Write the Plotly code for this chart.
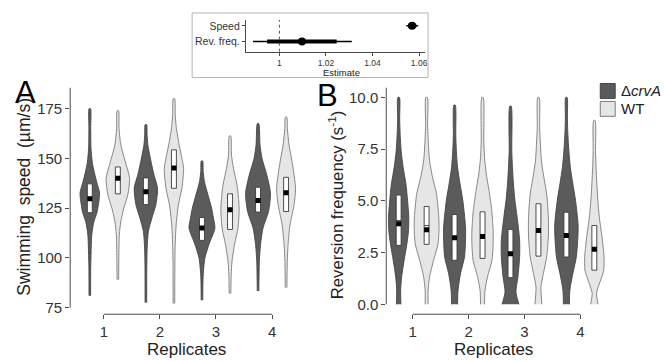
import plotly.graph_objects as go

# ---------------- data ----------------
REPLICATES = [1, 2, 3, 4]
GROUP_LABELS = ["\u0394<i>crvA</i>", "WT"]

# Panel A: swimming speed (µm/s) -- violin outlines (value levels + relative density)
speed_crvA_levels = [
    [81, 95, 103, 111.7, 118, 123, 131, 133, 138, 143, 148, 155, 165, 175],
    [77.5, 95, 105, 113.3, 120, 126.7, 135, 142, 148.3, 156.7, 161.7, 167],
    [78.7, 88, 93.3, 100, 106.7, 115, 120, 125, 131.7, 138.3, 143.3, 148.7],
    [83.3, 98.3, 106.7, 115, 123.3, 132.5, 141.7, 150, 156.7, 167.5],
]
speed_crvA_density = [
    [0.8, 0.9, 1.3, 2, 4, 7.3, 9.7, 9.7, 7, 4.5, 2.5, 1.2, 0.9, 0.7],
    [0.8, 0.9, 1.3, 2.5, 6, 10, 11.7, 8, 5.2, 2, 1.2, 0.7],
    [0.8, 1.0, 1.5, 3, 7, 13, 11.5, 9.7, 6, 2.5, 1.2, 0.7],
    [0.8, 1.3, 2.5, 5, 10.5, 12.5, 8.8, 4, 2, 0.7],
]
speed_WT_levels = [
    [89, 100, 111.7, 118.3, 125, 131.7, 140, 148.3, 156.7, 165, 174],
    [77, 100, 110, 118.3, 126.7, 135, 145, 150, 156.7, 165, 171.7, 180],
    [82, 91.7, 98.3, 106.7, 115, 125, 136.7, 145, 151.7, 161.3],
    [85, 98.3, 106.7, 116.7, 126.7, 135, 148.3, 156.7, 165, 170.8],
]
speed_WT_density = [
    [0.8, 1.0, 1.5, 3, 6, 10, 11.8, 7.5, 3, 1.2, 0.7],
    [0.8, 1.0, 1.5, 2.5, 4.5, 8, 9.7, 8, 5.3, 2.5, 1.3, 0.7],
    [0.8, 1.2, 2, 4.5, 8, 9.2, 7, 3.5, 1.5, 0.7],
    [0.8, 1.2, 2, 4, 8, 9.5, 6, 3, 1.3, 0.7],
]
speed_crvA_q1 = [122.7, 126.8, 108.8, 123.0]
speed_crvA_median = [129.7, 133.3, 115.0, 128.8]
speed_crvA_q3 = [137.2, 140.2, 120.3, 135.5]
speed_crvA_mean = [129.7, 133.3, 115.0, 128.8]
speed_WT_q1 = [132.2, 135.0, 114.3, 123.3]
speed_WT_median = [140.0, 145.2, 124.2, 132.7]
speed_WT_q3 = [145.7, 154.3, 132.2, 140.5]
speed_WT_mean = [140.0, 145.2, 124.2, 132.7]

# Panel B: reversion frequency (s^-1)
rev_crvA_levels = [
    [0, 0.69, 1.33, 2.13, 2.93, 3.5, 4.2, 5.0, 5.82, 6.62, 7.42, 8.22, 9.0, 10],
    [0, 0.69, 1.49, 2.29, 3.1, 3.74, 5.02, 5.82, 6.62, 7.42, 8.22, 9.63],
    [0, 0.6, 1.33, 2.3, 3.1, 4.21, 5.02, 5.82, 6.62, 7.42, 9.58],
    [0, 0.69, 1.49, 2.29, 3.4, 3.9, 5.02, 5.82, 6.62, 7.42, 8.22, 9.0, 10],
]
rev_crvA_density = [
    [2.3, 2, 3, 5.5, 8.3, 9.8, 10.2, 9, 7.3, 4.5, 2.5, 1.5, 1, 0.8],
    [3, 3.5, 6, 10, 11, 11, 8.3, 5.5, 3, 1.8, 1.2, 0.7],
    [8.5, 5.5, 7.5, 9.2, 9.2, 6.7, 4.5, 3, 2, 1.3, 0.7],
    [3, 3.5, 6.5, 10, 11.7, 11.7, 9.2, 6.5, 4, 2.5, 1.5, 1, 0.7],
]
rev_WT_levels = [
    [0, 0.69, 1.33, 2.13, 2.93, 3.7, 4.2, 5.33, 6.13, 6.93, 7.74, 8.7, 10],
    [0, 0.69, 1.33, 2.13, 2.93, 3.57, 4.53, 5.5, 6.3, 7.1, 7.9, 10],
    [0, 0.85, 1.49, 2.29, 3.3, 4.2, 5.33, 6.13, 6.93, 7.74, 8.54, 10],
    [0, 0.53, 0.85, 1.33, 1.65, 2.3, 3.41, 4.21, 5.02, 5.82, 6.62, 7.42, 8.89],
]
rev_WT_density = [
    [1.5, 1.5, 3, 7, 11.5, 12.5, 12.3, 10, 6, 3, 1.8, 1, 0.8],
    [2, 2.5, 5, 9.5, 10.7, 10.7, 9.3, 6.5, 3.8, 2, 1.3, 0.7],
    [3.5, 2.5, 5, 8.3, 10, 10, 8.3, 5.5, 3, 2, 1.2, 0.7],
    [3.7, 2.2, 4, 7.5, 9.5, 9.7, 7.3, 5, 3.5, 2.5, 1.7, 1.2, 0.7],
]
rev_crvA_q1 = [2.85, 2.13, 1.29, 2.29]
rev_crvA_median = [4.05, 3.22, 2.45, 3.33]
rev_crvA_q3 = [5.28, 4.34, 3.62, 4.45]
rev_crvA_mean = [3.89, 3.22, 2.45, 3.33]
rev_WT_q1 = [2.90, 2.22, 2.33, 1.65]
rev_WT_median = [3.81, 3.28, 3.57, 2.66]
rev_WT_q3 = [4.73, 4.47, 4.86, 3.81]
rev_WT_mean = [3.60, 3.28, 3.57, 2.66]

speed_ticks = [75, 100, 125, 150, 175]
rev_ticks = [0, 2.5, 5, 7.5, 10]
rev_ticktext = ["0.0", "2.5", "5.0", "7.5", "10.0"]

# Inset: effect estimates
inset_labels = ["Rev. freq.", "Speed"]
inset_estimate = [1.0097, 1.057]
inset_lo_inner = [0.9947, 1.0553]
inset_hi_inner = [1.0246, 1.0588]
inset_lo_outer = [0.9886, 1.0545]
inset_hi_outer = [1.0311, 1.0596]
inset_ticks = [1, 1.02, 1.04, 1.06]
inset_ticktext = ["1", "1.02", "1.04", "1.06"]

# ---------------- styling ----------------
W, H = 664, 361
FONT = "Liberation Sans, Arial, Helvetica, sans-serif"
DARK_FILL, DARK_LINE = "#5b5b5b", "#454545"
LIGHT_FILL, LIGHT_LINE = "#e6e6e6", "#7c7c7c"
BOX_LINE = "#3a3a3a"
AXIS_COL = "#4a4a4a"
TICK_TXT = "#333333"
DODGE = 0.25
DENS_SCALE = 1 / 56.3      # density unit -> x units
BOX_HALF = 0.044


def px(x):
    return x / W


def py(y):
    return (H - y) / H


fig = go.Figure()


def add_violins(levels, density, q1, med, q3, mean, offset, fill, line, xa, ya):
    pos = [r + offset for r in REPLICATES]
    for i, c in enumerate(pos):
        lv = levels[i]
        dn = density[i]
        xs = [c + d * DENS_SCALE for d in dn] + [c - d * DENS_SCALE for d in reversed(dn)]
        ys = list(lv) + list(reversed(lv))
        fig.add_trace(go.Scatter(
            x=xs, y=ys, mode="lines", fill="toself", fillcolor=fill,
            line=dict(color=line, width=0.9, shape="spline", smoothing=0.7),
            xaxis=xa, yaxis=ya, showlegend=False, hoverinfo="skip"))
        # box (interquartile range)
        fig.add_trace(go.Scatter(
            x=[c - BOX_HALF, c + BOX_HALF, c + BOX_HALF, c - BOX_HALF, c - BOX_HALF],
            y=[q1[i], q1[i], q3[i], q3[i], q1[i]],
            mode="lines", fill="toself", fillcolor="white",
            line=dict(color=BOX_LINE, width=0.9),
            xaxis=xa, yaxis=ya, showlegend=False, hoverinfo="skip"))
        # median line
        fig.add_trace(go.Scatter(
            x=[c - BOX_HALF, c + BOX_HALF], y=[med[i], med[i]], mode="lines",
            line=dict(color=BOX_LINE, width=0.9),
            xaxis=xa, yaxis=ya, showlegend=False, hoverinfo="skip"))
    fig.add_trace(go.Scatter(
        x=pos, y=mean, mode="markers",
        marker=dict(symbol="square", size=5, color="black", line=dict(width=0)),
        xaxis=xa, yaxis=ya, showlegend=False, hoverinfo="skip"))


add_violins(speed_crvA_levels, speed_crvA_density, speed_crvA_q1, speed_crvA_median,
            speed_crvA_q3, speed_crvA_mean, -DODGE, DARK_FILL, DARK_LINE, "x", "y")
add_violins(speed_WT_levels, speed_WT_density, speed_WT_q1, speed_WT_median,
            speed_WT_q3, speed_WT_mean, DODGE, LIGHT_FILL, LIGHT_LINE, "x", "y")
add_violins(rev_crvA_levels, rev_crvA_density, rev_crvA_q1, rev_crvA_median,
            rev_crvA_q3, rev_crvA_mean, -DODGE, DARK_FILL, DARK_LINE, "x2", "y2")
add_violins(rev_WT_levels, rev_WT_density, rev_WT_q1, rev_WT_median,
            rev_WT_q3, rev_WT_mean, DODGE, LIGHT_FILL, LIGHT_LINE, "x2", "y2")

# inset traces
inset_y = list(range(len(inset_labels)))
fig.add_trace(go.Scatter(
    x=inset_estimate, y=inset_y, mode="markers",
    marker=dict(size=1, color="black"),
    error_x=dict(type="data", symmetric=False,
                 array=[h - e for h, e in zip(inset_hi_outer, inset_estimate)],
                 arrayminus=[e - l for e, l in zip(inset_estimate, inset_lo_outer)],
                 thickness=1.5, width=0, color="black"),
    xaxis="x3", yaxis="y3", showlegend=False, hoverinfo="skip"))
fig.add_trace(go.Scatter(
    x=inset_estimate, y=inset_y, mode="markers",
    marker=dict(size=8, color="black"),
    error_x=dict(type="data", symmetric=False,
                 array=[h - e for h, e in zip(inset_hi_inner, inset_estimate)],
                 arrayminus=[e - l for e, l in zip(inset_estimate, inset_lo_inner)],
                 thickness=4, width=0, color="black"),
    xaxis="x3", yaxis="y3", showlegend=False, hoverinfo="skip"))

tickfont = dict(family=FONT, size=15, color=TICK_TXT)
common_x = dict(showgrid=False, zeroline=False, showline=False, ticks="outside",
                ticklen=4, tickwidth=1, tickcolor=AXIS_COL, tickfont=tickfont,
                tickvals=REPLICATES, ticktext=[str(r) for r in REPLICATES])
common_y = dict(showgrid=False, zeroline=False, showline=False, ticks="outside",
                ticklen=4, tickwidth=1, tickcolor=AXIS_COL, tickfont=tickfont)

PLOT_TOP, PLOT_BOT = 88, 316

fig.update_layout(
    width=W, height=H, autosize=False,
    margin=dict(l=0, r=0, t=0, b=0),
    paper_bgcolor="white", plot_bgcolor="rgba(0,0,0,0)",
    font=dict(family=FONT, color="#222"),
    xaxis=dict(domain=[px(70.5), px(307.1)], range=[0.4, 4.6], anchor="y", **common_x),
    yaxis=dict(domain=[py(PLOT_BOT), py(PLOT_TOP)], range=[71.65, 185.65], anchor="x",
               tickvals=speed_ticks, ticktext=[str(t) for t in speed_ticks], **common_y),
    xaxis2=dict(domain=[px(388), px(608)], range=[0.528, 4.445], anchor="y2", **common_x),
    yaxis2=dict(domain=[py(PLOT_BOT), py(PLOT_TOP)], range=[-0.48, 10.48], anchor="x2",
                tickvals=rev_ticks, ticktext=rev_ticktext, **common_y),
    xaxis3=dict(domain=[px(247), px(427)], range=[0.98559, 1.06257], anchor="y3",
                showgrid=False, zeroline=False, showline=True, linecolor=AXIS_COL, linewidth=1,
                ticks="outside", ticklen=3, tickcolor=AXIS_COL,
                tickvals=inset_ticks, ticktext=inset_ticktext,
                tickfont=dict(family=FONT, size=8.5, color=TICK_TXT)),
    yaxis3=dict(domain=[py(52), py(20)], range=[-0.656, 1.382], anchor="x3",
                showgrid=False, zeroline=False, showline=True, linecolor=AXIS_COL, linewidth=1,
                ticks="outside", ticklen=3, tickcolor=AXIS_COL,
                tickvals=inset_y, ticktext=inset_labels,
                tickfont=dict(family=FONT, size=10.5, color=TICK_TXT)),
    showlegend=False,
)

shapes = [
    # capped axes panel A
    dict(type="line", xref="x", yref="y domain", x0=1, x1=4, y0=0, y1=0,
         line=dict(color=AXIS_COL, width=1)),
    dict(type="line", xref="x domain", yref="y", x0=0, x1=0, y0=75, y1=185.65,
         line=dict(color=AXIS_COL, width=1)),
    # capped axes panel B
    dict(type="line", xref="x2", yref="y2 domain", x0=1, x1=4, y0=0, y1=0,
         line=dict(color=AXIS_COL, width=1)),
    dict(type="line", xref="x2 domain", yref="y2", x0=0, x1=0, y0=0, y1=10.48,
         line=dict(color=AXIS_COL, width=1)),
    # inset reference line and frame
    dict(type="line", xref="x3", yref="y3 domain", x0=1, x1=1, y0=0, y1=1,
         line=dict(color="#555", width=1, dash="dot")),
    dict(type="rect", xref="paper", yref="paper", x0=px(193), x1=px(430),
         y0=py(78), y1=py(13), line=dict(color="#b5b5b5", width=1)),
    # legend keys
    dict(type="rect", xref="paper", yref="paper", x0=px(603), x1=px(618),
         y0=py(99), y1=py(84), fillcolor=DARK_FILL, line=dict(color=DARK_LINE, width=1)),
    dict(type="rect", xref="paper", yref="paper", x0=px(603), x1=px(618),
         y0=py(117), y1=py(102), fillcolor=LIGHT_FILL, line=dict(color=LIGHT_LINE, width=1)),
]
fig.update_layout(shapes=shapes)

ann = []


def text(s, x, y, size, angle=0, xanchor="center", color="#222"):
    ann.append(dict(text=s, x=px(x), y=py(y), xref="paper", yref="paper",
                    xanchor=xanchor, yanchor="middle", showarrow=False,
                    textangle=angle, font=dict(family=FONT, size=size, color=color)))


text("A", 13, 93.5, 31, xanchor="left", color="black")
text("B", 316, 96, 31, xanchor="left", color="black")
text("Swimming\u00a0 speed\u00a0 (\u00b5m/s)", 24, 198, 17.5, angle=-90)
text("Reversion frequency (s<sup>-1</sup>)", 337, 206, 16.8, angle=-90)
text("Replicates", 187, 351, 17)
text("Replicates", 496, 351, 17)
text("Estimate", 343, 72.5, 9.5)
text(GROUP_LABELS[0], 622, 91.5, 15, xanchor="left")
text(GROUP_LABELS[1], 622, 109.5, 15, xanchor="left")
fig.update_layout(annotations=ann)

fig.write_html(
    "out.html",
    config={"displayModeBar": False},
    post_script="document.body.style.margin='0px';document.body.style.padding='0px';"
                "document.body.style.overflow='hidden';",
)
